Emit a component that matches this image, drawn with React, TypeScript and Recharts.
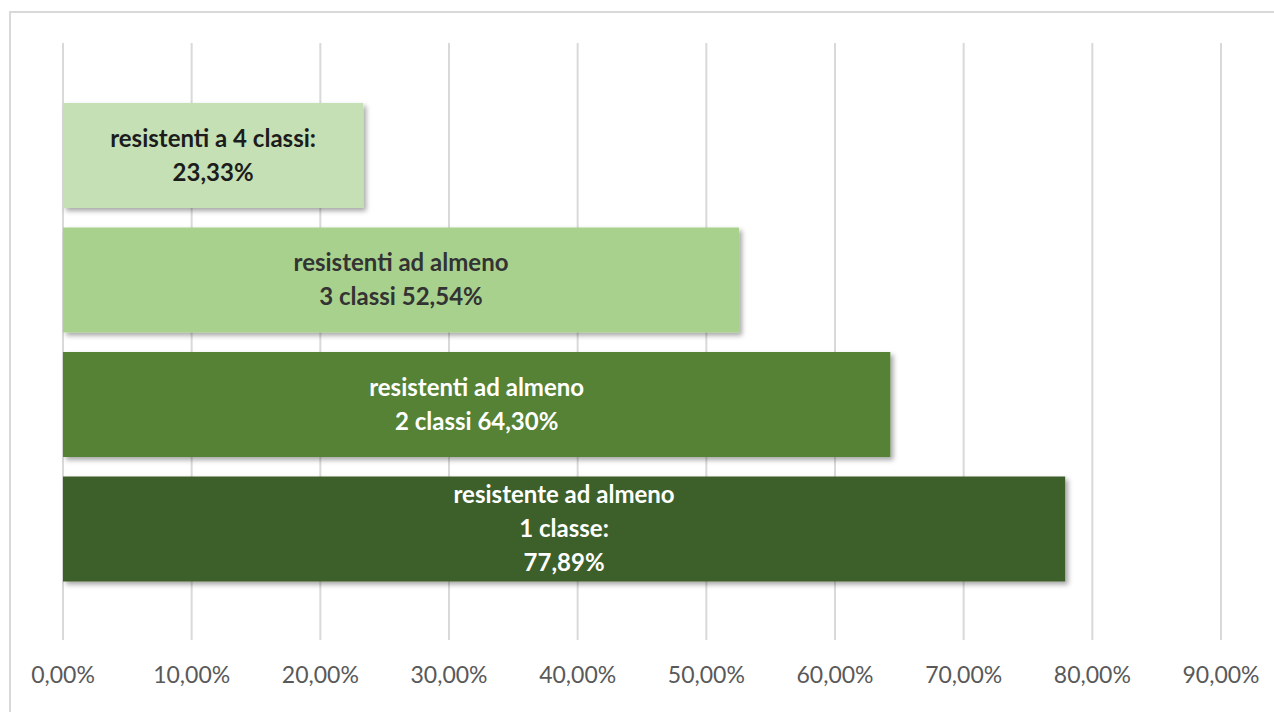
import React from "react";
import { BarChart, Bar, XAxis, YAxis, CartesianGrid, Cell, LabelList } from "recharts";

const categories = ["4 classi", "almeno 3 classi", "almeno 2 classi", "almeno 1 classe"];
const values = [23.33, 52.54, 64.3, 77.89];
const labelLines = [
  ["resistenti a 4 classi:", "23,33%"],
  ["resistenti ad almeno", "3 classi 52,54%"],
  ["resistenti ad almeno", "2 classi 64,30%"],
  ["resistente ad almeno", "1 classe:", "77,89%"],
];
const barColors = ["#C5E0B4", "#A9D18E", "#548235", "#3D5E29"];
const textColors = ["#1c1c1c", "#333333", "#ffffff", "#ffffff"];
const xTicks = [0, 10, 20, 30, 40, 50, 60, 70, 80, 90];

const data = categories.map((c, i) => ({ name: c, value: values[i], idx: i }));

const fmt = (v: number) => v.toFixed(2).replace(".", ",") + "%";

const FONT = "Lato, 'Open Sans', sans-serif";

const renderLabel = (props: any) => {
  const { x, y, width, height, index } = props;
  const lines = labelLines[index] || [];
  const lh = 34;
  const cx = x + width / 2;
  const cy = y + height / 2;
  const start = cy - ((lines.length - 1) * lh) / 2;
  return (
    <text
      x={cx}
      y={start}
      textAnchor="middle"
      fontFamily={FONT}
      fontWeight={700}
      fontSize={24}
      fill={textColors[index]}
    >
      {lines.map((l: string, i: number) => (
        <tspan key={i} x={cx} y={start + i * lh} dy="0.35em">
          {l}
        </tspan>
      ))}
    </text>
  );
};

export default function App() {
  return (
    <div
      style={{
        position: "fixed",
        left: 0,
        top: 0,
        width: 1274,
        height: 712,
        overflow: "hidden",
        background: "#ffffff",
      }}
    >
      <div
        style={{
          position: "absolute",
          left: 9,
          top: 11,
          width: 1300,
          height: 800,
          borderTop: "2px solid #D9D9D9",
          borderLeft: "2px solid #D9D9D9",
        }}
      />
      <div style={{ position: "absolute", left: 0, top: 0 }}>
        <BarChart
          width={1274}
          height={712}
          data={data}
          layout="vertical"
          margin={{ top: 43, right: 53, bottom: 0, left: 63 }}
        >
          <defs>
            <filter id="shadow" x="-5%" y="-10%" width="115%" height="130%">
              <feDropShadow dx="3" dy="3" stdDeviation="2.5" floodColor="#000000" floodOpacity="0.35" />
            </filter>
          </defs>
          <CartesianGrid horizontal={false} vertical={true} stroke="#D9D9D9" strokeWidth={2} />
          <XAxis
            type="number"
            domain={[0, 90]}
            ticks={xTicks}
            tickFormatter={fmt}
            axisLine={false}
            tickLine={false}
            tickMargin={21}
            height={72}
            interval={0}
            tick={{ fill: "#595959", fontSize: 23, fontFamily: FONT }}
          />
          <YAxis type="category" dataKey="name" hide padding={{ top: 50, bottom: 49 }} />
          <Bar dataKey="value" barSize={105} isAnimationActive={false} style={{ filter: "url(#shadow)" }}>
            {data.map((d, i) => (
              <Cell key={i} fill={barColors[i]} />
            ))}
            <LabelList dataKey="value" content={renderLabel} />
          </Bar>
        </BarChart>
      </div>
    </div>
  );
}
